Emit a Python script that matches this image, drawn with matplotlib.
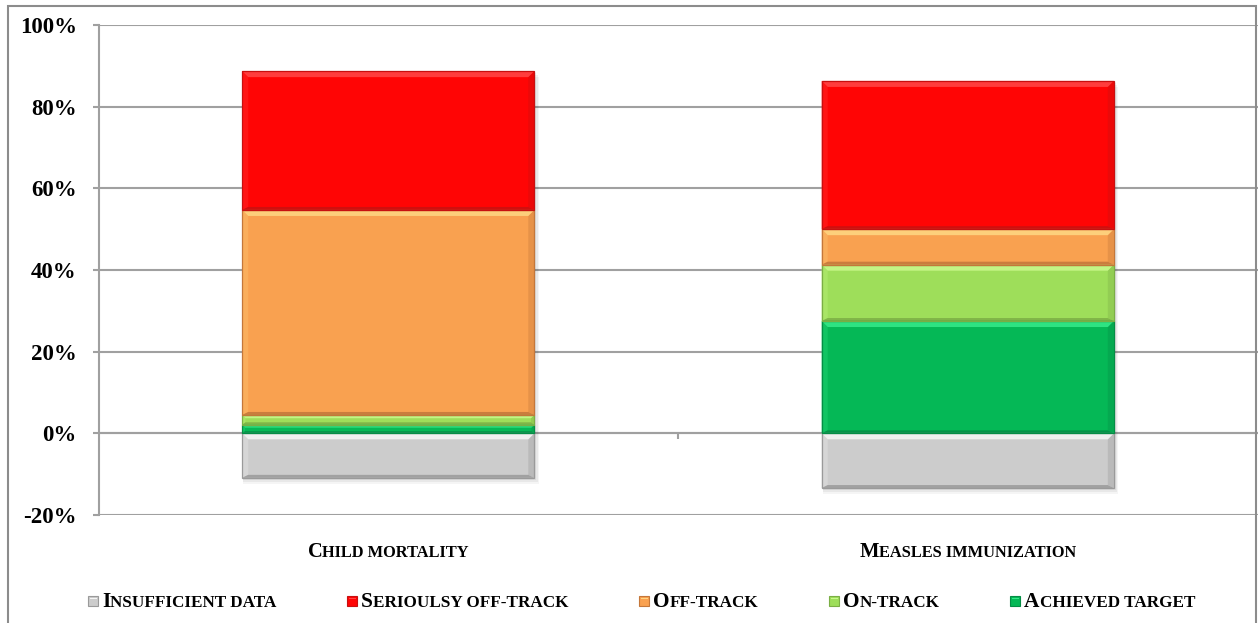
import matplotlib
matplotlib.use("Agg")
import matplotlib.pyplot as plt
from matplotlib.patches import Polygon, Rectangle
from matplotlib.colors import to_rgb
import numpy as np

# ---------------- data ----------------
categories = ["Child mortality", "Measles immunization"]
series_names = ["Insufficient data", "Serioulsy off-track", "Off-track", "On-track", "Achieved target"]
insufficient = [-10.9, -13.4]
achieved = [2.1, 27.5]
on_track = [2.4, 13.8]
off_track = [50.2, 8.7]
seriously = [34.0, 36.3]
y_ticks = [-20, 0, 20, 40, 60, 80, 100]
y_tick_labels = ["-20%", "0%", "20%", "40%", "60%", "80%", "100%"]

# ---------------- style ----------------
palette = {
    "Insufficient data": "#CCCCCC",
    "Serioulsy off-track": "#FF0505",
    "Off-track": "#F9A150",
    "On-track": "#9EDE5A",
    "Achieved target": "#05B856",
}
highlight = {
    "Insufficient data": "#FFFFFF",
    "Serioulsy off-track": "#FF5555",
    "Off-track": "#FFE28E",
    "On-track": "#D4FF98",
    "Achieved target": "#40F595",
}
shade = {
    "Insufficient data": "#858585",
    "Serioulsy off-track": "#B01515",
    "Off-track": "#AD6530",
    "On-track": "#6C9A3C",
    "Achieved target": "#047A3E",
}
FONT = "Liberation Serif"
W, H = 1258, 623
AX_L, AX_R, AX_T, AX_B = 98.5, 1257.5, 25, 515
YMIN, YMAX = -20, 100
BAR_W = 0.504

fig = plt.figure(figsize=(W / 100, H / 100), dpi=100)
ax = fig.add_axes([AX_L / W, 1 - AX_B / H, (AX_R - AX_L) / W, (AX_B - AX_T) / H])
ax.set_xlim(-0.5, len(categories) - 0.5)
ax.set_ylim(YMIN, YMAX)

px_y = (YMAX - YMIN) / (AX_B - AX_T)
px_x = len(categories) / (AX_R - AX_L)


def mix(c1, c2, t):
    a, b = np.array(to_rgb(c1)), np.array(to_rgb(c2))
    return tuple(a * (1 - t) + b * t)


def bevel_bar(x, y0, y1, name):
    base, light, dark = palette[name], highlight[name], shade[name]
    lo, hi = min(y0, y1), max(y0, y1)
    x0, x1 = x - BAR_W / 2, x + BAR_W / 2
    h_px = (hi - lo) / px_y
    b = min(6.0, h_px / 3.0)
    bx, by = b * px_x, b * px_y
    bb = min(3.0, h_px / 4.0) * px_y
    # soft shadow
    for k, a in [(6, 0.04), (4, 0.05), (2, 0.06)]:
        ax.add_patch(Rectangle((x0 + 1 * px_x, lo - k * px_y), BAR_W + k * 0.6 * px_x, hi - lo,
                               facecolor="black", alpha=a, lw=0, zorder=1.5))
    ax.add_patch(Rectangle((x0, lo), BAR_W, hi - lo, facecolor=base, edgecolor="none", zorder=2))
    # left / right bevel
    ax.add_patch(Polygon([(x0, hi), (x0 + bx, hi - by), (x0 + bx, lo + bb), (x0, lo)],
                         closed=True, facecolor=mix(base, light, 0.2), ec="none", zorder=2.1))
    ax.add_patch(Polygon([(x1, hi), (x1 - bx, hi - by), (x1 - bx, lo + bb), (x1, lo)],
                         closed=True, facecolor=mix(base, dark, 0.25), ec="none", zorder=2.1))
    # top highlight
    ax.add_patch(Polygon([(x0, hi), (x1, hi), (x1 - bx, hi - by), (x0 + bx, hi - by)],
                         closed=True, facecolor=mix(base, light, 0.7), ec="none", zorder=2.2))
    # bottom shade
    ax.add_patch(Polygon([(x0, lo), (x1, lo), (x1 - bx, lo + bb), (x0 + bx, lo + bb)],
                         closed=True, facecolor=mix(base, dark, 0.6), ec="none", zorder=2.2))
    # outline
    ax.add_patch(Rectangle((x0, lo), BAR_W, hi - lo, facecolor="none",
                           edgecolor=mix(base, dark, 0.7), lw=0.9, zorder=2.3))


stack_order = [("Achieved target", achieved), ("On-track", on_track),
               ("Off-track", off_track), ("Serioulsy off-track", seriously)]
for i, cat in enumerate(categories):
    bevel_bar(i, 0, insufficient[i], "Insufficient data")
    bottom = 0.0
    for name, vals in stack_order:
        bevel_bar(i, bottom, bottom + vals[i], name)
        bottom += vals[i]

# axes styling
GRID = "#A0A0A0"
for s in ["top", "right"]:
    ax.spines[s].set_visible(False)
ax.spines["left"].set_color(GRID)
ax.spines["left"].set_linewidth(1.5)
ax.spines["bottom"].set_position(("data", 0))
ax.spines["bottom"].set_color(GRID)
ax.spines["bottom"].set_linewidth(1.5)
ax.spines["bottom"].set_zorder(0.6)
ax.set_yticks(y_ticks)
ax.set_yticklabels(y_tick_labels, fontfamily=FONT, fontweight="bold", fontsize=16.5)
ax.tick_params(axis="y", direction="out", length=4.3, width=1.5, color=GRID, pad=11.3)
ax.set_xticks([0.5])
ax.set_xticklabels([])
ax.tick_params(axis="x", direction="out", length=4, width=1.5, color=GRID)
ax.yaxis.grid(True, color=GRID, lw=1.5)
ax.set_axisbelow(True)

# figure border
fig.patches.append(Rectangle((8 / W, -0.05), (1256 - 8) / W, 1.05 - 6 / H, transform=fig.transFigure,
                             facecolor="none", edgecolor="#8C8C8C", lw=1.5, zorder=0))

renderer = fig.canvas.get_renderer()


def smallcaps_make(text, size):
    runs = []
    for ch in text:
        big = ch.isupper()
        if runs and runs[-1][1] == big:
            runs[-1][0] += ch
        else:
            runs.append([ch, big])
    texts = []
    for s, big in runs:
        t = fig.text(0, 0, s.upper(), fontsize=size if big else size * 0.8, fontweight="bold",
                     family=FONT, va="baseline", ha="left")
        texts.append(t)
    widths = [t.get_window_extent(renderer).width for t in texts]
    return texts, widths


def smallcaps_place(texts, widths, x_px, y_px):
    start = x_px
    for t, w in zip(texts, widths):
        t.set_position((start / W, 1 - y_px / H))
        start += w


# category labels
for i, cat in enumerate(categories):
    cx = ax.transData.transform((i, 0))[0]
    texts, widths = smallcaps_make(cat, 14.8)
    smallcaps_place(texts, widths, cx - sum(widths) / 2, 557)

# legend: entries spread evenly between the two ends
LEG_START, LEG_END, LEG_Y = 88, 1195, 607
MK, MK_GAP = 10, 4
entries = [smallcaps_make(name, 15.4) for name in series_names]
item_w = [MK + MK_GAP + sum(w) for _, w in entries]
gap = (LEG_END - LEG_START - sum(item_w)) / (len(entries) - 1)
x = LEG_START
for name, (texts, widths), iw in zip(series_names, entries, item_w):
    base, light, dark = palette[name], highlight[name], shade[name]
    my = LEG_Y - 11
    fig.patches.append(Rectangle((x / W, 1 - (my + MK) / H), MK / W, MK / H, transform=fig.transFigure,
                                 facecolor=base, edgecolor=mix(base, dark, 0.7), lw=0.8))
    fig.patches.append(Rectangle(((x + 1.5) / W, 1 - (my + 3) / H), (MK - 3) / W, 1.5 / H,
                                 transform=fig.transFigure, facecolor=mix(base, light, 0.8), lw=0))
    smallcaps_place(texts, widths, x + MK + MK_GAP, LEG_Y)
    x += iw + gap

fig.savefig("out.png", dpi=100)
